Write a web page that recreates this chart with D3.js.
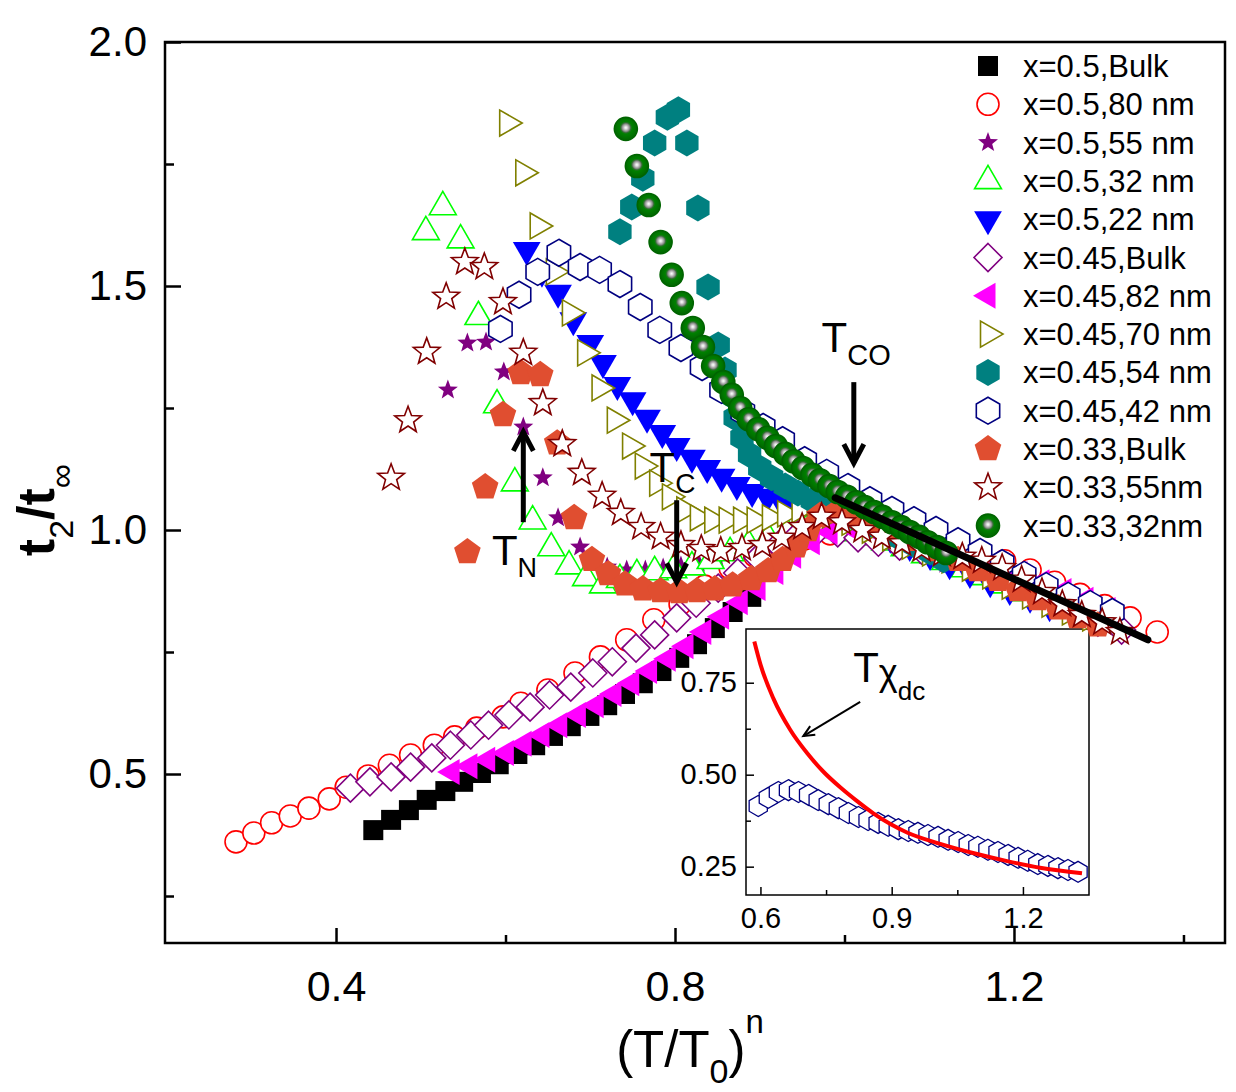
<!DOCTYPE html>
<html>
<head>
<meta charset="utf-8">
<script src="https://cdn.jsdelivr.net/npm/d3@7"></script>
<style>
  body { margin: 0; background: #fff; }
  svg { font-family: "Liberation Sans", Arial, sans-serif; }
</style>
</head>
<body>
<div id="chart"></div>
<script>
// ---- data: [ (T/T0)^n , t2/t_inf ]
const bulk05 = [[0.444,0.385],[0.465,0.406],[0.486,0.426],[0.507,0.447],[0.529,0.465],[0.550,0.484],[0.571,0.502],[0.592,0.520],[0.614,0.541],[0.635,0.559],[0.656,0.578],[0.677,0.598],[0.699,0.619],[0.720,0.641],[0.741,0.664],[0.762,0.686],[0.784,0.711],[0.805,0.738],[0.826,0.766],[0.847,0.799],[0.868,0.832],[0.890,0.863]];
const nm80_05 = [[0.282,0.361],[0.303,0.379],[0.324,0.400],[0.346,0.414],[0.368,0.430],[0.392,0.449],[0.412,0.473],[0.438,0.496],[0.463,0.518],[0.488,0.539],[0.516,0.559],[0.540,0.576],[0.566,0.594],[0.597,0.617],[0.618,0.645],[0.650,0.672],[0.682,0.707],[0.712,0.740],[0.743,0.775],[0.775,0.816],[0.806,0.848],[0.835,0.885],[0.865,0.922],[0.894,0.947],[0.924,0.967],[0.953,0.982],[0.983,0.992],[1.012,0.996],[1.042,0.986],[1.071,0.978],[1.101,0.969],[1.130,0.961],[1.160,0.950],[1.189,0.937],[1.219,0.918],[1.248,0.893],[1.278,0.868],[1.307,0.845],[1.337,0.820],[1.369,0.791]];
const nm55_05 = [[0.532,1.287],[0.555,1.383],[0.577,1.385],[0.598,1.324],[0.621,1.211],[0.644,1.107],[0.662,1.025],[0.688,0.965],[0.720,0.924],[0.743,0.918],[0.765,0.918],[0.786,0.922],[0.807,0.926],[0.828,0.932],[0.850,0.943],[0.871,0.955],[0.892,0.967],[0.913,0.980],[0.934,0.990],[0.956,0.998],[0.977,1.000],[1.001,0.996],[1.024,0.988],[1.048,0.978],[1.071,0.963],[1.095,0.947],[1.119,0.930]];
const nm32_05 = [[0.506,1.611],[0.526,1.662],[0.547,1.594],[0.568,1.437],[0.590,1.256],[0.611,1.096],[0.632,1.018],[0.654,0.963],[0.675,0.926],[0.695,0.902],[0.715,0.887],[0.735,0.898],[0.755,0.908],[0.776,0.914],[0.798,0.918],[0.820,0.924],[0.842,0.937],[0.865,0.953],[0.887,0.969],[0.910,0.984],[0.932,0.994],[0.955,1.000],[0.977,1.000],[1.001,0.994],[1.024,0.986],[1.048,0.975],[1.071,0.963],[1.095,0.949],[1.119,0.935],[1.142,0.920],[1.166,0.904],[1.189,0.887],[1.213,0.871],[1.237,0.855],[1.260,0.838]];
const nm22_05 = [[0.625,1.574],[0.643,1.529],[0.662,1.486],[0.680,1.430],[0.700,1.383],[0.715,1.342],[0.732,1.297],[0.750,1.266],[0.767,1.230],[0.785,1.199],[0.802,1.172],[0.820,1.148],[0.838,1.127],[0.855,1.109],[0.873,1.092],[0.891,1.078],[0.909,1.068],[0.926,1.057],[0.944,1.049],[0.962,1.041],[0.983,1.029],[1.006,1.014],[1.030,1.000],[1.054,0.984],[1.077,0.967],[1.101,0.949],[1.124,0.930],[1.148,0.912],[1.172,0.893],[1.195,0.877],[1.219,0.861],[1.242,0.844]];
const bulk045 = [[0.417,0.471],[0.440,0.484],[0.465,0.494],[0.488,0.514],[0.513,0.533],[0.535,0.559],[0.559,0.580],[0.580,0.600],[0.604,0.621],[0.629,0.637],[0.652,0.662],[0.677,0.678],[0.703,0.707],[0.726,0.730],[0.754,0.758],[0.776,0.785],[0.802,0.820],[0.825,0.850],[0.851,0.881],[0.874,0.912],[0.898,0.943],[0.922,0.969],[0.945,0.990],[0.969,1.000],[0.992,0.994],[1.016,0.984],[1.040,0.975],[1.065,0.967],[1.091,0.959],[1.117,0.949],[1.143,0.937],[1.169,0.922],[1.195,0.902],[1.221,0.881],[1.247,0.861],[1.273,0.840],[1.299,0.811],[1.327,0.795]];
const nm82_045 = [[0.537,0.504],[0.558,0.516],[0.579,0.529],[0.601,0.543],[0.622,0.562],[0.643,0.580],[0.664,0.600],[0.686,0.621],[0.707,0.641],[0.728,0.664],[0.749,0.686],[0.770,0.711],[0.792,0.736],[0.813,0.762],[0.834,0.791],[0.855,0.822],[0.877,0.852],[0.898,0.881],[0.919,0.914],[0.940,0.947],[0.962,0.975],[0.983,0.996],[1.006,1.006],[1.030,1.004],[1.054,0.996],[1.077,0.984],[1.103,0.969],[1.129,0.955],[1.155,0.941],[1.181,0.926],[1.207,0.910],[1.233,0.893],[1.259,0.875],[1.285,0.857],[1.311,0.836]];
const nm70_045 = [[0.602,1.834],[0.621,1.732],[0.638,1.623],[0.657,1.529],[0.676,1.445],[0.694,1.363],[0.711,1.291],[0.729,1.225],[0.747,1.172],[0.762,1.131],[0.779,1.096],[0.794,1.068],[0.811,1.041],[0.827,1.025],[0.844,1.020],[0.861,1.020],[0.878,1.020],[0.894,1.020],[0.912,1.025],[0.930,1.033],[0.947,1.041],[0.965,1.039],[0.983,1.031],[1.006,1.016],[1.030,1.000],[1.054,0.984],[1.077,0.967],[1.101,0.953],[1.124,0.939],[1.148,0.922],[1.172,0.906],[1.195,0.885],[1.219,0.865],[1.242,0.848],[1.266,0.832],[1.290,0.820]];
const nm54_045 = [[0.735,1.611],[0.749,1.662],[0.762,1.721],[0.776,1.793],[0.791,1.846],[0.804,1.861],[0.814,1.793],[0.827,1.660],[0.839,1.498],[0.851,1.379],[0.859,1.328],[0.865,1.277],[0.871,1.230],[0.879,1.189],[0.888,1.154],[0.900,1.127],[0.914,1.107],[0.930,1.090],[0.945,1.076],[0.962,1.061],[0.978,1.049],[0.995,1.037],[1.012,1.025],[1.030,1.012],[1.048,0.998],[1.065,0.984],[1.083,0.969],[1.101,0.955],[1.117,0.939]];
const nm42_045 = [[0.594,1.412],[0.616,1.482],[0.638,1.529],[0.663,1.568],[0.688,1.539],[0.711,1.533],[0.735,1.504],[0.759,1.457],[0.782,1.410],[0.807,1.373],[0.832,1.334],[0.855,1.287],[0.880,1.242],[0.904,1.211],[0.927,1.184],[0.953,1.143],[0.979,1.117],[1.004,1.088],[1.030,1.061],[1.056,1.041],[1.082,1.020],[1.108,1.000],[1.134,0.977],[1.160,0.955],[1.186,0.932],[1.212,0.908],[1.238,0.885],[1.264,0.865],[1.290,0.848],[1.316,0.832]];
const bulk033 = [[0.555,0.955],[0.576,1.088],[0.597,1.236],[0.618,1.322],[0.641,1.318],[0.661,1.178],[0.681,1.025],[0.702,0.939],[0.721,0.910],[0.741,0.889],[0.762,0.879],[0.783,0.875],[0.805,0.873],[0.826,0.875],[0.847,0.879],[0.868,0.887],[0.890,0.900],[0.910,0.916],[0.927,0.939],[0.943,0.967],[0.957,1.000],[0.971,1.029],[0.992,1.037],[1.016,1.029],[1.040,1.016],[1.063,1.000],[1.087,0.980],[1.110,0.959],[1.134,0.939],[1.157,0.918],[1.181,0.898],[1.205,0.877],[1.228,0.859],[1.252,0.840],[1.275,0.822],[1.299,0.805]];
const nm55_033 = [[0.465,1.107],[0.485,1.225],[0.507,1.365],[0.530,1.478],[0.552,1.549],[0.575,1.539],[0.597,1.467],[0.621,1.363],[0.644,1.260],[0.667,1.176],[0.690,1.117],[0.714,1.070],[0.736,1.035],[0.760,1.006],[0.783,0.986],[0.807,0.969],[0.831,0.961],[0.854,0.957],[0.879,0.963],[0.903,0.969],[0.926,0.984],[0.950,1.006],[0.973,1.027],[0.997,1.016],[1.021,1.000],[1.044,0.986],[1.068,0.973],[1.091,0.961],[1.115,0.951],[1.139,0.945],[1.162,0.937],[1.186,0.922],[1.209,0.898],[1.233,0.873],[1.257,0.848],[1.280,0.826],[1.304,0.811],[1.325,0.791]];
const nm32_033 = [[0.742,1.822],[0.755,1.746],[0.769,1.666],[0.783,1.590],[0.796,1.523],[0.808,1.465],[0.821,1.414],[0.833,1.375],[0.845,1.336],[0.857,1.303],[0.867,1.277],[0.877,1.250],[0.887,1.227],[0.898,1.207],[0.909,1.189],[0.919,1.172],[0.930,1.156],[0.940,1.141],[0.951,1.127],[0.962,1.113],[0.971,1.102],[0.982,1.090],[0.992,1.078],[1.003,1.068],[1.014,1.057],[1.024,1.047],[1.035,1.037],[1.045,1.027],[1.056,1.016],[1.067,1.006],[1.077,0.996],[1.088,0.986],[1.098,0.975],[1.109,0.965],[1.120,0.953]];
const fitLine = [[0.989,1.066],[1.358,0.775]];

// inset: x=0.45, 42 nm with T*chi_dc curve
const insetX = [0.595,0.618,0.641,0.664,0.687,0.710,0.732,0.755,0.778,0.801,0.824,0.846,0.869,0.892,0.915,0.938,0.960,0.983,1.006,1.029,1.052,1.075,1.097,1.120,1.143,1.166,1.189,1.211,1.234,1.257,1.280,1.303,1.326];
const insetHexY = [0.415,0.437,0.453,0.458,0.453,0.445,0.431,0.420,0.409,0.396,0.385,0.377,0.369,0.361,0.352,0.347,0.342,0.336,0.331,0.323,0.317,0.309,0.304,0.296,0.290,0.282,0.274,0.266,0.257,0.252,0.246,0.241,0.236];
const insetCurve = [[0.586,0.862],[0.600,0.800],[0.630,0.706],[0.668,0.622],[0.707,0.558],[0.744,0.508],[0.783,0.465],[0.821,0.428],[0.858,0.395],[0.897,0.366],[0.935,0.343],[1.011,0.312],[1.086,0.287],[1.164,0.265],[1.239,0.247],[1.335,0.232]];

// ticks
const xMajor = [0.4, 0.8, 1.2], xMinor = [0.6, 1.0, 1.4];
const yMajor = [0.5, 1.0, 1.5, 2.0], yMinor = [0.25, 0.75, 1.25, 1.75];
const ixMajor = [0.6, 0.9, 1.2], ixMinor = [0.75, 1.05];
const iyMajor = [0.25, 0.5, 0.75], iyMinor = [0.375, 0.625];

const svg = d3.select("#chart").append("svg").attr("width", 1236).attr("height", 1092);

const defs = svg.append("defs");
const grad = defs.append("radialGradient").attr("id", "ball").attr("cx", "0.5").attr("cy", "0.45").attr("r", "0.5");
[["0%", "#ffffff"], ["12%", "#dddddd"], ["32%", "#8c8c8c"], ["44%", "#2e6e2e"], ["55%", "#008000"], ["100%", "#006a00"]]
  .forEach(s => grad.append("stop").attr("offset", s[0]).attr("stop-color", s[1]));

// scales
const x = d3.scaleLinear().domain([0.1982, 1.449]).range([165, 1225]);
const y = d3.scaleLinear().domain([0.1537, 2.0]).range([943, 42]);
const xi = d3.scaleLinear().domain([0.567, 1.351]).range([746, 1089]);
const yi = d3.scaleLinear().domain([0.173, 0.896]).range([895, 629]);

// marker shapes
function polygon(n, r, rot) {
  const pts = d3.range(n).map(k => {
    const a = rot + k * 2 * Math.PI / n;
    return [r * Math.sin(a), -r * Math.cos(a)];
  });
  return "M" + pts.map(p => p[0].toFixed(2) + "," + p[1].toFixed(2)).join("L") + "Z";
}
function star(ro, ri) {
  const pts = d3.range(10).map(k => {
    const a = k * Math.PI / 5, r = k % 2 ? ri : ro;
    return [r * Math.sin(a), -r * Math.cos(a)];
  });
  return "M" + pts.map(p => p[0].toFixed(2) + "," + p[1].toFixed(2)).join("L") + "Z";
}
function markerPath(type, r) {
  switch (type) {
    case "square": return `M${-r},${-r}H${r}V${r}H${-r}Z`;
    case "circle":
    case "ball": return `M${r},0A${r},${r} 0 1,1 ${-r},0A${r},${r} 0 1,1 ${r},0Z`;
    case "triUp": return polygon(3, r, 0);
    case "triDown": return polygon(3, r, Math.PI);
    case "triLeft": return polygon(3, r, -Math.PI / 2);
    case "triRight": return polygon(3, r, Math.PI / 2);
    case "diamond": return polygon(4, r, 0);
    case "hex": return polygon(6, r, 0);
    case "pent": return polygon(5, r, 0);
    case "star": return star(r, r * 0.42);
  }
}

const series = [
  { label: "x=0.5,Bulk",   data: bulk05,   shape: "square",   r: 10,   fill: "#000000", stroke: "none" },
  { label: "x=0.5,80 nm",  data: nm80_05,  shape: "circle",   r: 11,   fill: "#ffffff", stroke: "#ff0000" },
  { label: "x=0.5,55 nm",  data: nm55_05,  shape: "star",     r: 10.5, fill: "#800080", stroke: "none" },
  { label: "x=0.5,32 nm",  data: nm32_05,  shape: "triUp",    r: 15.5, fill: "#ffffff", stroke: "#00ff00" },
  { label: "x=0.5,22 nm",  data: nm22_05,  shape: "triDown",  r: 16,   fill: "#0000ff", stroke: "none" },
  { label: "x=0.45,Bulk",  data: bulk045,  shape: "diamond",  r: 14,   fill: "#ffffff", stroke: "#800080" },
  { label: "x=0.45,82 nm", data: nm82_045, shape: "triLeft",  r: 15,   fill: "#ff00ff", stroke: "none" },
  { label: "x=0.45,70 nm", data: nm70_045, shape: "triRight", r: 15,   fill: "#ffffff", stroke: "#808000" },
  { label: "x=0.45,54 nm", data: nm54_045, shape: "hex",      r: 13.5, fill: "#008080", stroke: "none" },
  { label: "x=0.45,42 nm", data: nm42_045, shape: "hex",      r: 13.5, fill: "#ffffff", stroke: "#000080" },
  { label: "x=0.33,Bulk",  data: bulk033,  shape: "pent",     r: 14,   fill: "#e04e30", stroke: "none" },
  { label: "x=0.33,55nm",  data: nm55_033, shape: "star",     r: 14,   fill: "#ffffff", stroke: "#800000" },
  { label: "x=0.33,32nm",  data: nm32_033, shape: "ball",     r: 11.5, fill: "url(#ball)", stroke: "#006400" }
];

// ---- inset (drawn first so main markers sit over its border)
const inset = svg.append("g");
inset.append("rect").attr("x", 746).attr("y", 629).attr("width", 343).attr("height", 266)
  .attr("fill", "#fff").attr("stroke", "#000").attr("stroke-width", 1.5);

function styleAxis(g, size, width) {
  g.select(".domain").remove();
  g.selectAll(".tick line").attr("stroke", "#000").attr("stroke-width", width);
  g.selectAll(".tick text").attr("font-size", size).attr("fill", "#000")
    .attr("font-family", "Liberation Sans, Arial, sans-serif");
}

inset.append("g").attr("transform", "translate(0,895)")
  .call(d3.axisBottom(xi).tickValues(ixMajor).tickFormat(d3.format(".1f")).tickSizeInner(-8).tickSizeOuter(0).tickPadding(12))
  .call(g => styleAxis(g, 29, 1.5));
inset.append("g").attr("transform", "translate(0,895)")
  .call(d3.axisBottom(xi).tickValues(ixMinor).tickFormat("").tickSizeInner(-5).tickSizeOuter(0))
  .call(g => styleAxis(g, 29, 1.5));
inset.append("g").attr("transform", "translate(746,0)")
  .call(d3.axisLeft(yi).tickValues(iyMajor).tickFormat(d3.format(".2f")).tickSizeInner(-8).tickSizeOuter(0).tickPadding(9))
  .call(g => styleAxis(g, 29, 1.5));
inset.append("g").attr("transform", "translate(746,0)")
  .call(d3.axisLeft(yi).tickValues(iyMinor).tickFormat("").tickSizeInner(-5).tickSizeOuter(0))
  .call(g => styleAxis(g, 29, 1.5));

inset.selectAll("path.ihex").data(insetX.map((v, i) => [v, insetHexY[i]])).enter().append("path")
  .attr("class", "ihex")
  .attr("d", markerPath("hex", 10.5))
  .attr("transform", d => `translate(${xi(d[0])},${yi(d[1])})`)
  .attr("fill", "#fff").attr("stroke", "#000080").attr("stroke-width", 1.3);

inset.append("path").datum(insetCurve)
  .attr("d", d3.line().x(d => xi(d[0])).y(d => yi(d[1])).curve(d3.curveMonotoneX))
  .attr("fill", "none").attr("stroke", "#ff0000").attr("stroke-width", 4);

// ---- main markers
const plot = svg.append("g");
series.forEach(s => {
  plot.append("g").selectAll("path").data(s.data).enter().append("path")
    .attr("d", markerPath(s.shape, s.r))
    .attr("transform", d => `translate(${x(d[0])},${y(d[1])})`)
    .attr("fill", s.fill)
    .attr("stroke", s.stroke)
    .attr("stroke-width", s.stroke === "none" ? 0 : 1.6)
    .attr("stroke-linejoin", "miter");
});

plot.append("path").datum(fitLine)
  .attr("d", d3.line().x(d => x(d[0])).y(d => y(d[1])))
  .attr("stroke", "#000").attr("stroke-width", 7).attr("stroke-linecap", "round").attr("fill", "none");

// ---- main frame and axes
svg.append("rect").attr("x", 165).attr("y", 42).attr("width", 1060).attr("height", 901)
  .attr("fill", "none").attr("stroke", "#000").attr("stroke-width", 2.5);

svg.append("g").attr("transform", "translate(0,943)")
  .call(d3.axisBottom(x).tickValues(xMajor).tickFormat(d3.format(".1f")).tickSizeInner(-15).tickSizeOuter(0).tickPadding(27))
  .call(g => styleAxis(g, 43, 2.5));
svg.append("g").attr("transform", "translate(0,943)")
  .call(d3.axisBottom(x).tickValues(xMinor).tickFormat("").tickSizeInner(-8).tickSizeOuter(0))
  .call(g => styleAxis(g, 43, 2.5));
svg.append("g").attr("transform", "translate(165,0)")
  .call(d3.axisLeft(y).tickValues(yMajor).tickFormat(d3.format(".1f")).tickSizeInner(-16).tickSizeOuter(0).tickPadding(18))
  .call(g => styleAxis(g, 42, 2.5));
svg.append("g").attr("transform", "translate(165,0)")
  .call(d3.axisLeft(y).tickValues(yMinor).tickFormat("").tickSizeInner(-9).tickSizeOuter(0))
  .call(g => styleAxis(g, 42, 2.5));

// ---- axis titles
function richText(parent, px, py, parts, anchor) {
  const t = parent.append("text").attr("x", px).attr("y", py)
    .attr("text-anchor", anchor || "start").attr("fill", "#000");
  parts.forEach(p => {
    const ts = t.append("tspan").attr("font-size", p[1]).attr("dy", p[2] || 0).text(p[0]);
    if (p[3]) ts.attr("font-weight", p[3]);
  });
  return t;
}

richText(svg, 690, 1067, [["(T/T", 51], ["0", 34, 16], [")", 51, -16], ["n", 33, -34]], "middle");

const yTitle = svg.append("g").attr("transform", "translate(54,510) rotate(-90)");
richText(yTitle, 0, 0, [["t", 52, 0, "bold"], ["2", 34, 19], ["/t", 52, -19, "bold"], ["\u221e", 34, 19]], "middle");

// ---- legend
const legend = svg.append("g");
series.forEach((s, i) => {
  const cy = 66 + i * 38.3;
  legend.append("path").attr("d", markerPath(s.shape, s.r))
    .attr("transform", `translate(988,${cy})`)
    .attr("fill", s.fill).attr("stroke", s.stroke)
    .attr("stroke-width", s.stroke === "none" ? 0 : 1.6);
  legend.append("text").attr("x", 1023).attr("y", cy + 11)
    .attr("font-size", 31).attr("fill", "#000").text(s.label);
});

// ---- annotations
function arrow(g, x1, y1, x2, y2, w, hl, hw) {
  g.append("line").attr("x1", x1).attr("y1", y1).attr("x2", x2).attr("y2", y2)
    .attr("stroke", "#000").attr("stroke-width", w);
  const a = Math.atan2(y2 - y1, x2 - x1);
  const bx = x2 - hl * Math.cos(a), by = y2 - hl * Math.sin(a);
  const nx = -Math.sin(a) * hw, ny = Math.cos(a) * hw;
  g.append("path").attr("d", `M${bx + nx},${by + ny}L${x2},${y2}L${bx - nx},${by - ny}`)
    .attr("fill", "none").attr("stroke", "#000").attr("stroke-width", w)
    .attr("stroke-linejoin", "miter").attr("stroke-linecap", "butt");
}

const ann = svg.append("g");
const tnArrow = [0.621, 1.016, 1.201];
const tcArrow = [0.802, 1.061, 0.893];
const tcoArrow = [1.011, 1.303, 1.137];
arrow(ann, x(tnArrow[0]), y(tnArrow[1]), x(tnArrow[0]), y(tnArrow[2]), 5, 19, 10);
arrow(ann, x(tcArrow[0]), y(tcArrow[1]), x(tcArrow[0]), y(tcArrow[2]), 5, 19, 10);
arrow(ann, x(tcoArrow[0]), y(tcoArrow[1]), x(tcoArrow[0]), y(tcoArrow[2]), 5, 19, 10);

richText(ann, x(0.584), y(0.928), [["T", 42], ["N", 27, 12]]);
richText(ann, x(0.770), y(1.098), [["T", 42], ["C", 28, 11]]);
richText(ann, x(0.973), y(1.365), [["T", 42], ["CO", 29, 13]]);

const chiArrow = [0.828, 0.698, 0.698, 0.605];
arrow(ann, xi(chiArrow[0]), yi(chiArrow[1]), xi(chiArrow[2]), yi(chiArrow[3]), 2, 11, 5);
richText(ann, xi(0.812), yi(0.752), [["T", 42], ["\u03c7", 36, 3], ["dc", 26, 15]]);
</script>
</body>
</html>
